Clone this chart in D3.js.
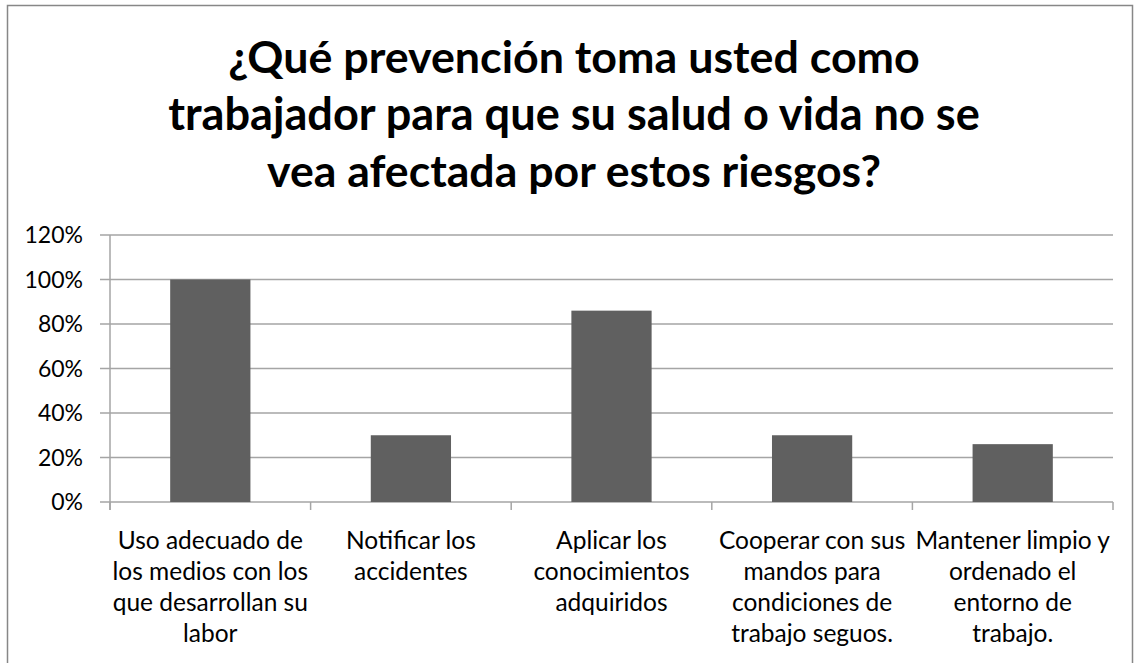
<!DOCTYPE html>
<html>
<head>
<meta charset="utf-8">
<script src="https://cdn.jsdelivr.net/npm/d3@7"></script>
<style>
  body { margin: 0; background: white; }
  svg { display: block; font-family: Lato, "Open Sans", sans-serif; }
</style>
</head>
<body>
<svg width="1134" height="663"></svg>
<script>
// data
const categories = [
    ["Uso adecuado de", "los medios con los", "que desarrollan su", "labor"],
    ["Notificar los", "accidentes"],
    ["Aplicar los", "conocimientos", "adquiridos"],
    ["Cooperar con sus", "mandos para", "condiciones de", "trabajo seguos."],
    ["Mantener limpio y", "ordenado el", "entorno de", "trabajo."]
];
const values = [1.00, 0.30, 0.86, 0.30, 0.26];
const yTicks = [0, 0.2, 0.4, 0.6, 0.8, 1.0, 1.2];
const titleLines = [
    "¿Qué prevención toma usted como",
    "trabajador para que su salud o vida no se",
    "vea afectada por estos riesgos?"
];

const width = 1134, height = 663;
const plot = { left: 110, right: 1113, top: 235, bottom: 502 };
const svg = d3.select("svg");

// outer frame of the chart
svg.append("rect")
    .attr("x", 7.5).attr("y", 5.5)
    .attr("width", 1125).attr("height", 700)
    .attr("fill", "white").attr("stroke", "#878787").attr("stroke-width", 1.5);

// title, fitted to the width
const titleWidths = [692, 812, 614];
titleLines.forEach((line, i) => {
    const t = svg.append("text")
        .attr("x", 574).attr("y", 73 + i * 57)
        .attr("text-anchor", "middle")
        .attr("font-weight", "bold")
        .attr("font-size", 40)
        .attr("fill", "#000")
        .text(line);
    const w = t.node().getComputedTextLength();
    t.attr("font-size", 40 * titleWidths[i] / w);
});

// scales
const x = d3.scaleBand().domain(d3.range(values.length)).range([plot.left, plot.right]).paddingInner(0.6).paddingOuter(0.3);
const xEdge = d3.scaleLinear().domain([0, values.length]).range([plot.left, plot.right]);
const y = d3.scaleLinear().domain([0, 1.2]).range([plot.bottom, plot.top]);

// gridlines
svg.append("g").selectAll("line").data(yTicks).join("line")
    .attr("x1", plot.left - 10).attr("x2", plot.right)
    .attr("y1", d => y(d)).attr("y2", d => y(d))
    .attr("stroke", "#a5a5a5").attr("stroke-width", 1.5);

// y axis line
svg.append("line")
    .attr("x1", plot.left).attr("x2", plot.left)
    .attr("y1", plot.top).attr("y2", plot.bottom + 8)
    .attr("stroke", "#a5a5a5").attr("stroke-width", 1.5);

// category boundary ticks
svg.append("g").selectAll("line").data(d3.range(values.length + 1)).join("line")
    .attr("x1", d => xEdge(d)).attr("x2", d => xEdge(d))
    .attr("y1", plot.bottom).attr("y2", plot.bottom + 8)
    .attr("stroke", "#a5a5a5").attr("stroke-width", 1.5);

// y labels
svg.append("g").selectAll("text").data(yTicks).join("text")
    .attr("x", 83).attr("y", d => y(d))
    .attr("dy", "0.35em")
    .attr("text-anchor", "end")
    .attr("font-size", 23)
    .attr("fill", "#000")
    .text(d3.format(".0%"));

// bars
svg.append("g").selectAll("rect").data(values).join("rect")
    .attr("x", (d, i) => x(i))
    .attr("y", d => y(d))
    .attr("width", x.bandwidth())
    .attr("height", d => y(0) - y(d))
    .attr("fill", "#606060");

// category labels
const labels = svg.append("g").selectAll("text").data(categories).join("text")
    .attr("text-anchor", "middle")
    .attr("font-size", 24.5)
    .attr("fill", "#000");
labels.selectAll("tspan").data((d, i) => d.map(s => ({ s, i }))).join("tspan")
    .attr("x", d => x(d.i) + x.bandwidth() / 2)
    .attr("y", (d, j) => 549 + j * 31)
    .text(d => d.s);
</script>
</body>
</html>
